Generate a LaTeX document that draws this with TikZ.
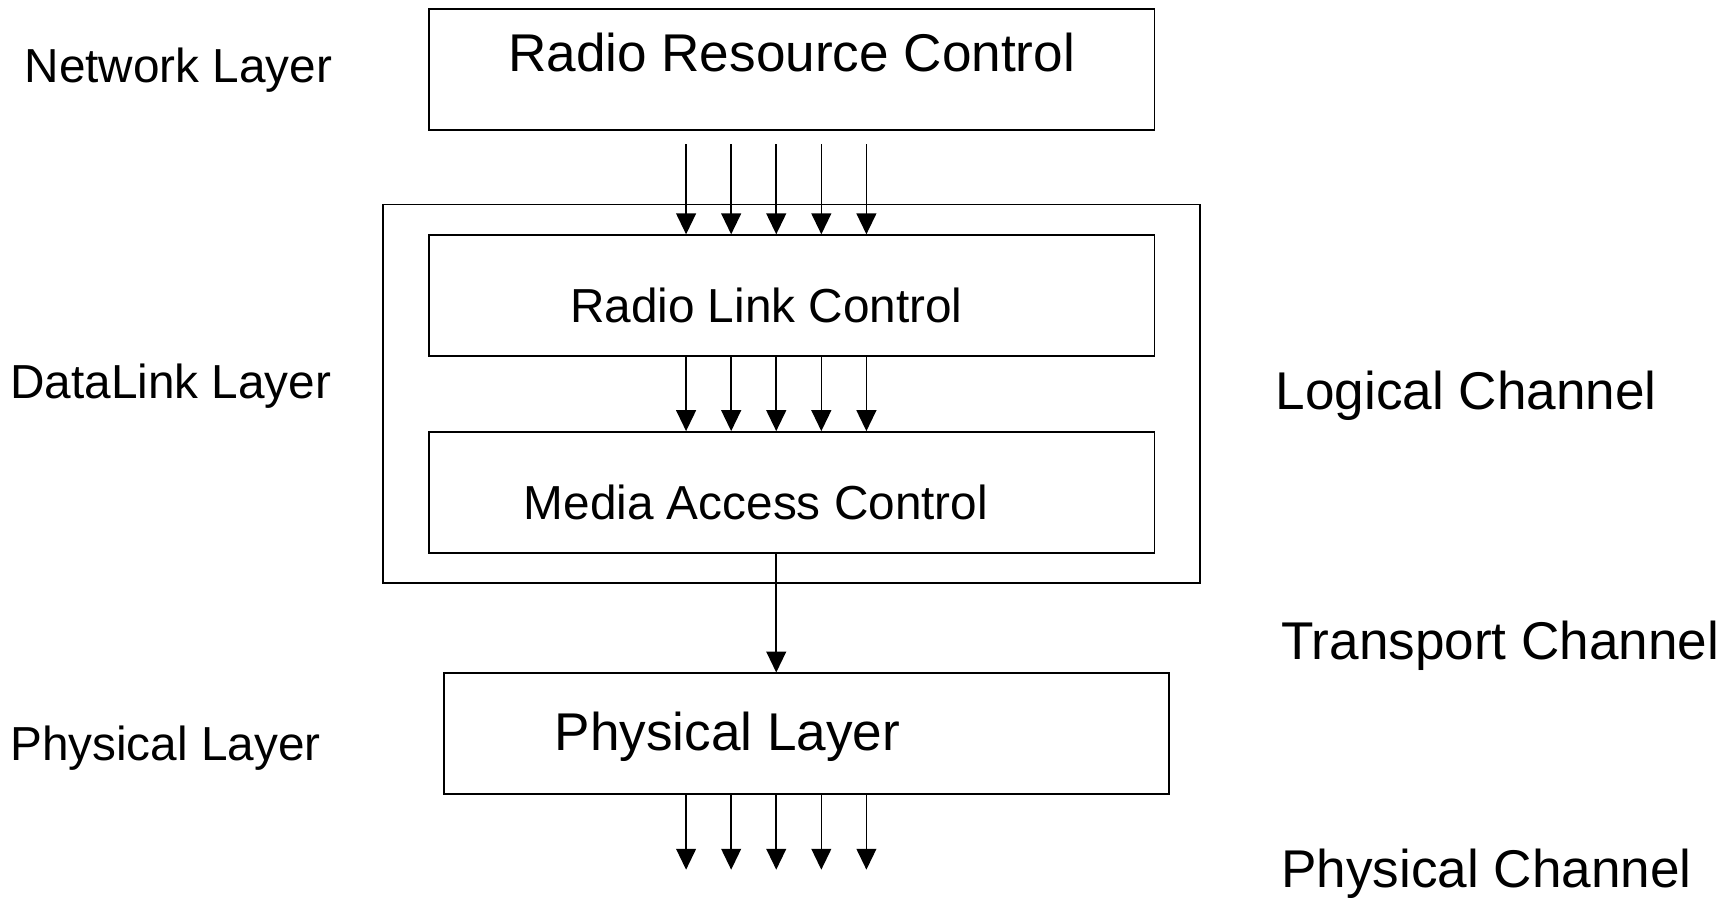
\documentclass[tikz,border=0pt]{standalone}
\usepackage{fontspec}
\setmainfont{Liberation Sans}
\usepackage{tikz}
\usetikzlibrary{arrows.meta,fit}

\begin{document}
\begin{tikzpicture}[
	layerbox/.style={
		draw,
		line width=1pt,
		minimum width=13.2cm,
		minimum height=2.2cm,
		inner sep=0pt
	},
	bigtext/.style={font=\fontsize{27.5}{33}\selectfont, inner sep=0pt},
	smalltext/.style={font=\fontsize{24.7}{30}\selectfont, inner sep=0pt},
	chan/.style={-{Triangle[length=3.8mm,width=3.6mm]}, line width=0.8pt}]

	\useasboundingbox (0,0) rectangle (31.36,16.42);

	\node[layerbox] (rrc) at (14.4,15.16) {};
	\node[layerbox] (rlc) at (14.4,11.04) {};
	\node[layerbox] (mac) at (14.4,7.46) {};
	\node[layerbox] (phy) at (14.67,3.07) {};

	\coordinate (A) at (6.96,12.7);
	\coordinate (B) at (21.82,5.82);
	\node[draw, line width=1pt, inner sep=0pt, fit={(A) (B)}] (dll) {};

	\node[bigtext, anchor=base] (rrctext) at (14.4,15.12) {Radio Resource Control};
	\node[smalltext, anchor=base] (rlctext) at (13.94,10.55) {Radio Link Control};
	\node[smalltext, anchor=base] (mactext) at (13.75,6.97) {Media Access Control};
	\node[bigtext, anchor=base] (phytext) at (13.23,2.76) {Physical Layer};

	\node[smalltext, anchor=base west] (network) at (0.44,14.92) {Network Layer};
	\node[smalltext, anchor=base west] (datalink) at (0.18,9.18) {DataLink Layer};
	\node[smalltext, anchor=base west] (physical) at (0.18,2.58) {Physical Layer};

	\node[bigtext, anchor=base west] (logical) at (23.2,8.98) {Logical Channel};
	\node[bigtext, anchor=base west] (transport) at (23.3,4.42) {Transport Channel};
	\node[bigtext, anchor=base west] (physchan) at (23.3,0.28) {Physical Channel};

	\coordinate (rrcout) at (0,13.8);
	\coordinate (phyout) at (0,0.6);
	\foreach \i in {1,...,5}
		\coordinate (col\i) at ({11.66+\i*0.82},0);

	\foreach \i in {1,...,5} {
		\draw[chan] (col\i |- rrcout) -- (col\i |- rlc.north);
		\draw[chan] (col\i |- rlc.south) -- (col\i |- mac.north);
		\draw[chan] (col\i |- phy.south) -- (col\i |- phyout);
	}
	\draw[chan] (col3 |- mac.south) -- (col3 |- phy.north);
\end{tikzpicture}
\end{document}
